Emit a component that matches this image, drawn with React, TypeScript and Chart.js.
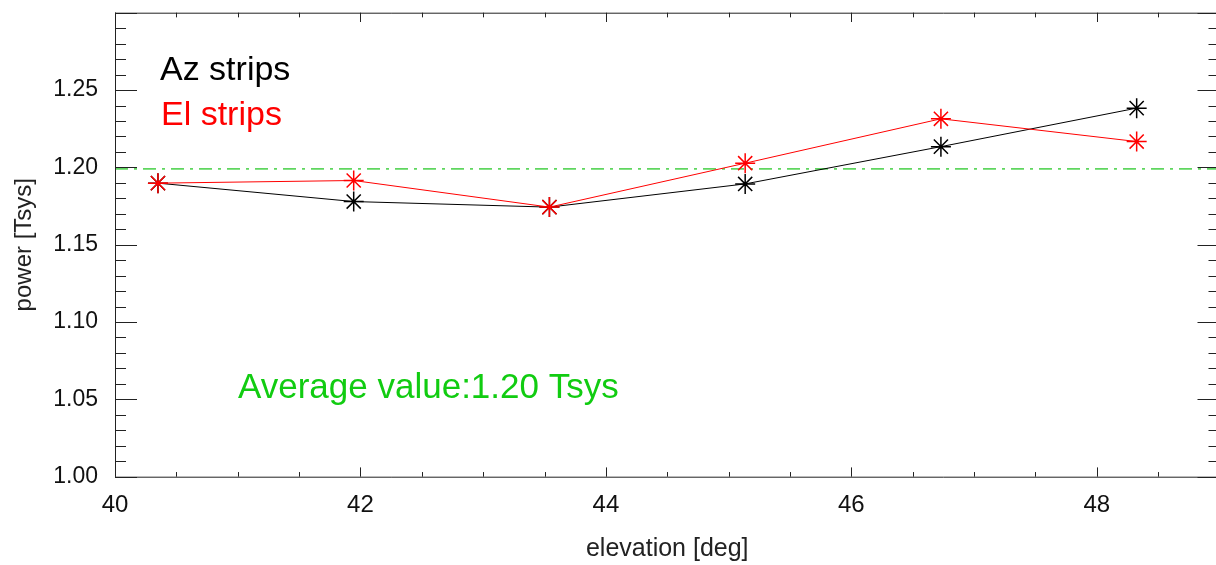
import React, { useEffect, useRef } from 'react';
import { Chart, registerables } from 'chart.js';

Chart.register(...registerables);

// ---- data ----
const elevation = [40.35, 41.945, 43.54, 45.135, 46.73, 48.325];
const azStrips = [1.1898, 1.1779, 1.1743, 1.1893, 1.2134, 1.2383];
const elStrips = [1.1898, 1.1915, 1.1743, 1.2027, 1.2314, 1.2167];
const averageValue = 1.199;
const averageLabel = 'Average value:1.20 Tsys';
const seriesNames = ['Az strips', 'El strips'];
const xLimits = [40, 49];
const yLimits = [1.0, 1.3];
const xTickLabels = [40, 42, 44, 46, 48];
const yTickLabels = [1.0, 1.05, 1.1, 1.15, 1.2, 1.25];
const xMinorStep = 0.5;
const yMinorStep = 0.01;
const xTitle = 'elevation [deg]';
const yTitle = 'power [Tsys]';

const FONT = '"Liberation Sans", Arial, Helvetica, sans-serif';
const CANVAS_W = 1231;

const framePlugin = {
  id: 'frame',
  afterDatasetsDraw(chart: any) {
    const { ctx, chartArea, scales } = chart;
    const xs = scales.x;
    const ys = scales.y;
    const { left, right, top, bottom } = chartArea;
    ctx.save();
    ctx.strokeStyle = '#222';
    ctx.lineWidth = 1;
    ctx.beginPath();
    ctx.moveTo(left + 0.5, top);
    ctx.lineTo(left + 0.5, bottom);
    ctx.moveTo(left, bottom + 0.5);
    ctx.lineTo(right, bottom + 0.5);
    ctx.moveTo(left, top + 0.5);
    ctx.lineTo(right, top + 0.5);
    ctx.moveTo(right - 0.5, top);
    ctx.lineTo(right - 0.5, bottom);
    // x ticks
    const nx = Math.round((xLimits[1] - xLimits[0]) / xMinorStep);
    for (let i = 0; i <= nx; i++) {
      const v = xLimits[0] + i * xMinorStep;
      const px = Math.round(xs.getPixelForValue(v)) + 0.5;
      const major = Math.abs(v / 2 - Math.round(v / 2)) < 1e-6;
      const len = major ? 9.3 : 4.65;
      ctx.moveTo(px, bottom);
      ctx.lineTo(px, bottom - len);
      ctx.moveTo(px, top);
      ctx.lineTo(px, top + len);
    }
    // y ticks
    const ny = Math.round((yLimits[1] - yLimits[0]) / yMinorStep);
    for (let i = 0; i <= ny; i++) {
      const v = yLimits[0] + i * yMinorStep;
      const py = Math.round(ys.getPixelForValue(v)) + 0.5;
      const major = i % 5 === 0;
      const len = major ? 22 : 11;
      ctx.moveTo(left, py);
      ctx.lineTo(left + len, py);
      ctx.moveTo(right, py);
      ctx.lineTo(right - len, py);
    }
    ctx.stroke();

    // annotations
    ctx.textBaseline = 'alphabetic';
    ctx.textAlign = 'left';
    ctx.font = `34px ${FONT}`;
    ctx.fillStyle = '#000000';
    ctx.fillText(seriesNames[0], 160, 80);
    ctx.fillStyle = '#ff0000';
    ctx.fillText(seriesNames[1], 161, 125);
    ctx.font = `35px ${FONT}`;
    ctx.fillStyle = '#11cc11';
    ctx.fillText(averageLabel, 238, 398);
    ctx.restore();
  },
};

const zeroPad = (s: any) => {
  s.paddingTop = 0;
  s.paddingBottom = 0;
  s.paddingLeft = 0;
  s.paddingRight = 0;
};

export default function App() {
  const canvasRef = useRef<HTMLCanvasElement | null>(null);

  useEffect(() => {
    const canvas = canvasRef.current;
    if (!canvas) return;
    const toPoints = (ys: number[]) => elevation.map((x, i) => ({ x, y: ys[i] }));
    const chart = new Chart(canvas, {
      type: 'scatter',
      data: {
        datasets: [
          {
            label: seriesNames[1],
            data: toPoints(elStrips),
            showLine: true,
            borderColor: '#ff0000',
            backgroundColor: '#ff0000',
            borderWidth: 1,
            pointStyle: 'star',
            pointRadius: 10,
            pointBorderWidth: 1.5,
            pointBorderColor: '#ff0000',
            order: 0,
          },
          {
            label: seriesNames[0],
            data: toPoints(azStrips),
            showLine: true,
            borderColor: '#000000',
            backgroundColor: '#000000',
            borderWidth: 1,
            pointStyle: 'star',
            pointRadius: 10,
            pointBorderWidth: 1.5,
            pointBorderColor: '#000000',
            order: 1,
          },
          {
            label: 'average',
            data: [
              { x: xLimits[0], y: averageValue },
              { x: xLimits[1], y: averageValue },
            ],
            showLine: true,
            borderColor: '#5fd65f',
            borderWidth: 1.6,
            borderDash: [13, 6, 3, 6],
            pointRadius: 0,
            order: 2,
          },
        ],
      },
      options: {
        animation: false,
        responsive: false,
        devicePixelRatio: 1,
        layout: { padding: { top: 12.7, right: 4.7, left: 0, bottom: 0 } },
        plugins: {
          legend: { display: false },
          tooltip: { enabled: false },
        },
        scales: {
          x: {
            type: 'linear',
            min: xLimits[0],
            max: xLimits[1],
            grid: { display: false, drawTicks: false },
            border: { display: false },
            afterBuildTicks: (s: any) => {
              s.ticks = xTickLabels.map((v) => ({ value: v }));
            },
            afterFit: (s: any) => {
              s.height = 88.3;
              zeroPad(s);
            },
            ticks: {
              color: '#111',
              font: { family: FONT, size: 24 },
              padding: 14,
              maxRotation: 0,
              autoSkip: false,
              callback: (v: any) => String(v),
            },
            title: {
              display: true,
              text: xTitle,
              color: '#222',
              font: { family: FONT, size: 25 },
              padding: { top: 1, bottom: 1 },
            },
          },
          y: {
            type: 'linear',
            min: yLimits[0],
            max: yLimits[1],
            grid: { display: false, drawTicks: false },
            border: { display: false },
            afterBuildTicks: (s: any) => {
              s.ticks = yTickLabels.map((v) => ({ value: v }));
            },
            afterFit: (s: any) => {
              s.width = 115;
              zeroPad(s);
            },
            ticks: {
              color: '#111',
              font: { family: FONT, size: 23 },
              padding: 17,
              autoSkip: false,
              callback: (v: any) => Number(v).toFixed(2),
            },
            title: {
              display: true,
              text: yTitle,
              color: '#222',
              font: { family: FONT, size: 24 },
              padding: { top: 10, bottom: 10 },
            },
          },
        },
      },
      plugins: [framePlugin],
    });
    return () => chart.destroy();
  }, []);

  return (
    <div
      style={{
        position: 'fixed',
        left: 0,
        top: 0,
        width: 1216,
        height: 565,
        overflow: 'hidden',
        background: '#ffffff',
      }}
    >
      <canvas
        ref={canvasRef}
        width={CANVAS_W}
        height={565}
        style={{ width: CANVAS_W, height: 565, display: 'block' }}
      />
    </div>
  );
}
